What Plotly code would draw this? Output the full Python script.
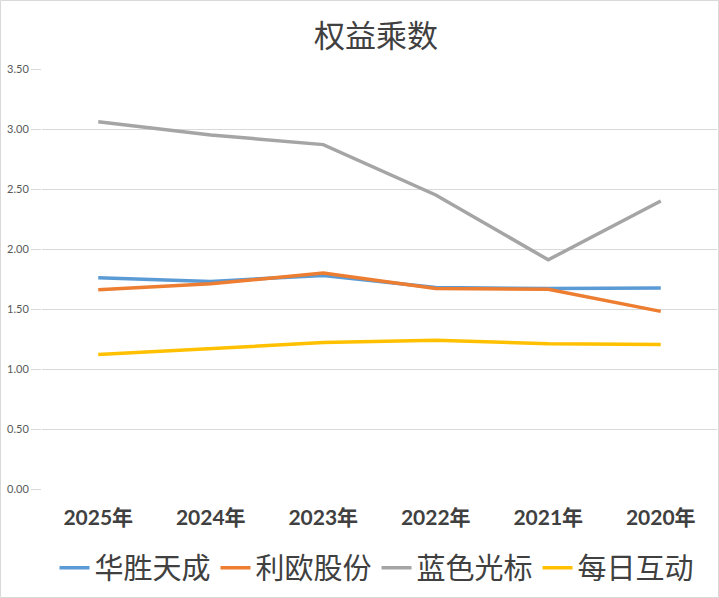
import plotly.graph_objects as go

years = ["2025年", "2024年", "2023年", "2022年", "2021年", "2020年"]
huasheng = [1.76, 1.73, 1.78, 1.68, 1.67, 1.675]
liou = [1.66, 1.71, 1.80, 1.67, 1.665, 1.48]
lanse = [3.06, 2.95, 2.87, 2.45, 1.91, 2.40]
meiri = [1.12, 1.17, 1.22, 1.24, 1.21, 1.205]

names = ["华胜天成", "利欧股份", "蓝色光标", "每日互动"]
colors = ["#5B9BD5", "#ED7D31", "#A5A5A5", "#FFC000"]
series = [huasheng, liou, lanse, meiri]

fig = go.Figure()
for n, c, s in zip(names, colors, series):
    fig.add_trace(go.Scatter(x=years, y=s, name=n, mode="lines",
                             line=dict(color=c, width=3.5)))

W, H = 719, 598
ml, mr, mt, mb = 42, 2, 69, 109
pw, ph = W - ml - mr, H - mt - mb

fig.update_layout(
    width=W, height=H,
    margin=dict(l=ml, r=mr, t=mt, b=mb, autoexpand=False),
    paper_bgcolor="white", plot_bgcolor="white",
    title=dict(text="权益乘数", x=376 / W, xanchor="center", y=1 - 36 / H, yanchor="middle",
               font=dict(family="Noto Sans CJK SC", size=31, color="#404040")),
    xaxis=dict(type="category", range=[-0.5, 5.5], showgrid=False, showline=False,
               ticks="", ticklabelstandoff=14, tickangle=0, automargin=False,
               tickfont=dict(family="Lato, Noto Sans CJK SC", size=21, color="#404040",
                             weight="bold")),
    yaxis=dict(range=[0, 3.5], dtick=0.5, tick0=0, tickformat=".2f", showgrid=True,
               gridcolor="#D9D9D9", gridwidth=1, zeroline=False, showline=False,
               ticks="outside", ticklen=10, tickcolor="#D9D9D9", automargin=False,
               tickfont=dict(family="Lato", size=11, color="#595959")),
    legend=dict(orientation="h", x=(377 - ml) / pw, xanchor="center",
                y=-79 / ph, yanchor="middle",
                font=dict(family="Noto Sans CJK SC", size=29, color="#404040"),
                itemwidth=30, tracegroupgap=0),
    showlegend=True,
)

# chart area border
fig.add_shape(type="rect", xref="paper", yref="paper",
              x0=-(ml - 0.5) / pw, x1=1 + (mr - 0.5) / pw,
              y0=-(mb - 0.5) / ph, y1=1 + (mt - 0.5) / ph,
              line=dict(color="#D9D9D9", width=1), layer="below")

fig.write_html("out.html", config={"displayModeBar": False},
               post_script="document.body.style.margin='0';")
